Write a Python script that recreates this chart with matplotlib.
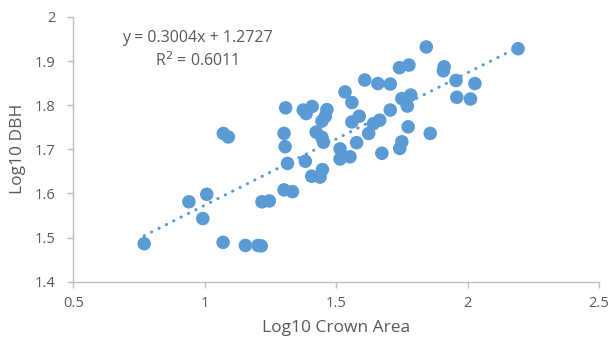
import numpy as np
import matplotlib.pyplot as plt

plt.rcParams['font.family'] = ['Open Sans', 'DejaVu Sans']

# Log10 crown area vs log10 DBH
crown_area = [0.770, 0.940, 1.008, 0.993, 1.070, 1.155, 1.203, 1.215, 1.218, 1.246,
              1.302, 1.334, 1.315, 1.306, 1.302, 1.308, 1.383, 1.407, 1.439, 1.448,
              1.452, 1.446, 1.424, 1.071, 1.090, 1.375, 1.409, 1.386, 1.465, 1.459,
              1.446, 1.534, 1.560, 1.560, 1.588, 1.515, 1.515, 1.553, 1.578, 1.624,
              1.642, 1.666, 1.706, 1.674, 1.774, 1.750, 1.742, 1.858, 1.609, 1.659,
              1.706, 1.750, 1.784, 1.771, 1.741, 1.777, 1.843, 1.911, 1.908, 1.956,
              2.028, 1.959, 2.011, 2.192]
dbh = [1.486, 1.581, 1.598, 1.543, 1.489, 1.482, 1.482, 1.481, 1.581, 1.583,
       1.608, 1.604, 1.668, 1.706, 1.736, 1.794, 1.673, 1.639, 1.637, 1.654,
       1.716, 1.727, 1.739, 1.736, 1.728, 1.789, 1.797, 1.781, 1.790, 1.775,
       1.764, 1.830, 1.806, 1.762, 1.775, 1.701, 1.678, 1.683, 1.715, 1.736,
       1.758, 1.766, 1.789, 1.691, 1.751, 1.717, 1.702, 1.736, 1.857, 1.849,
       1.848, 1.815, 1.823, 1.798, 1.885, 1.891, 1.932, 1.887, 1.878, 1.856,
       1.849, 1.818, 1.814, 1.928]

slope = 0.3004
intercept = 1.2727
r2 = 0.6011

blue = '#5B9BD5'
grey = '#595959'
axis_col = '#BFBFBF'

fig = plt.figure(figsize=(6.1, 3.46), dpi=100)
ax = fig.add_axes([0.120, 0.186, 0.862, 0.765])

ax.scatter(crown_area, dbh, s=95, color=blue, edgecolors='none', zorder=3)

# linear trendline over the data range
xs = np.array([min(crown_area), max(crown_area)])
ax.plot(xs, slope * xs + intercept, color=blue, lw=2.2,
        linestyle=(0, (0.1, 2.6)), dash_capstyle='round', zorder=2)

ax.text(0.971, 1.953, 'y = %.4fx + %.4f' % (slope, intercept),
        ha='center', va='center', fontsize=11.5, color=grey)
ax.text(0.971, 1.902, 'R$^2$ = %.4f' % r2,
        ha='center', va='center', fontsize=11.5, color=grey)

ax.set_xlim(0.5, 2.5)
ax.set_ylim(1.4, 2.0)
ax.set_xticks([0.5, 1, 1.5, 2, 2.5])
ax.set_xticklabels(['0.5', '1', '1.5', '2', '2.5'])
ax.set_yticks([1.4, 1.5, 1.6, 1.7, 1.8, 1.9, 2.0])
ax.set_yticklabels(['1.4', '1.5', '1.6', '1.7', '1.8', '1.9', '2'])

for s in ['top', 'right']:
    ax.spines[s].set_visible(False)
for s in ['left', 'bottom']:
    ax.spines[s].set_color(axis_col)
    ax.spines[s].set_linewidth(1.0)
ax.tick_params(colors=axis_col, labelcolor=grey, labelsize=10.5, length=4, width=1)
ax.tick_params(axis='x', pad=6)
ax.tick_params(axis='y', pad=9)

ax.set_xlabel('Log10 Crown Area', fontsize=12.5, color=grey, labelpad=7)
ax.set_ylabel('Log10 DBH', fontsize=12.5, color=grey, labelpad=6)

fig.savefig('out.png', dpi=100)
